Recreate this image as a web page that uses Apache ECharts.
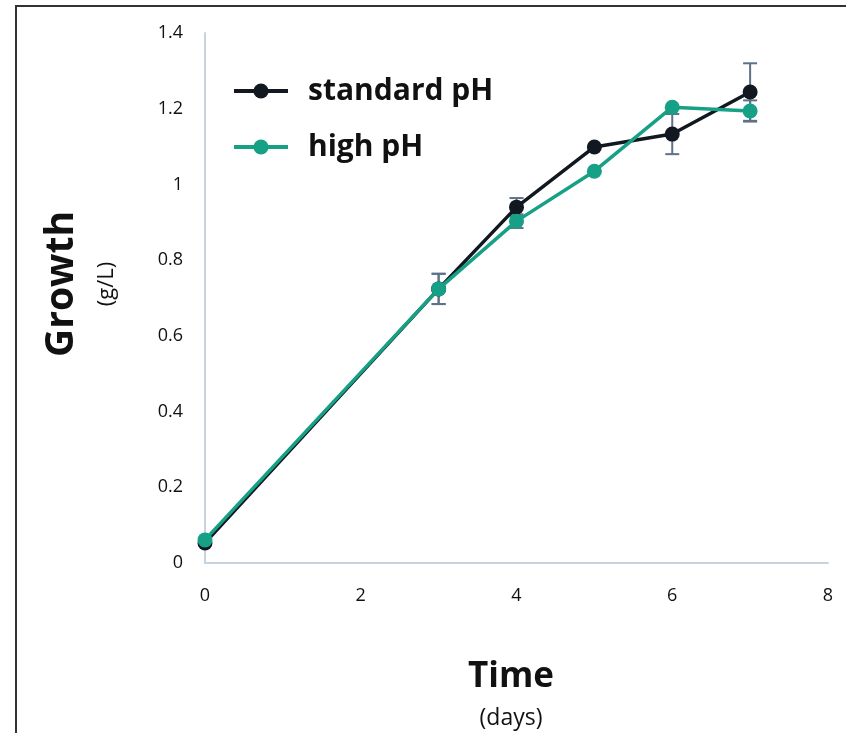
<!DOCTYPE html>
<html>
<head>
<meta charset="utf-8">
<script src="https://cdn.jsdelivr.net/npm/echarts@6/dist/echarts.min.js"></script>
<style>html,body{margin:0;padding:0;background:#fff}#c{width:846px;height:733px}</style>
</head>
<body>
<div id="c"></div>
<script>
const days = [0, 3, 4, 5, 6, 7];
const standardPH = [0.053, 0.724, 0.940, 1.099, 1.133, 1.244];
const highPH = [0.061, 0.724, 0.903, 1.035, 1.204, 1.194];
const standardErr = [0, 0.040, 0.024, 0, 0.053, 0.076];
const highErr = [0, 0.040, 0.018, 0, 0, 0.028];
const xTicks = [0, 2, 4, 6, 8];
const yTicks = [0, 0.2, 0.4, 0.6, 0.8, 1, 1.2, 1.4];

const chart = echarts.init(document.getElementById('c'), null, {renderer: 'canvas'});
const FONT = '"Open Sans", "Liberation Sans", sans-serif';
const BLACK = '#111820';
const GREEN = '#16a085';
const ERR = '#5d7189';

function errData(vals, errs) {
  const out = [];
  days.forEach((d, i) => { if (errs[i] > 0) out.push([d, vals[i] - errs[i], vals[i] + errs[i]]); });
  return out;
}
function errRender(params, api) {
  const x = api.value(0);
  const lo = api.coord([x, api.value(1)]);
  const hi = api.coord([x, api.value(2)]);
  const w = 7;
  const style = {stroke: ERR, lineWidth: 2};
  return {type: 'group', children: [
    {type: 'line', shape: {x1: lo[0], y1: lo[1], x2: hi[0], y2: hi[1]}, style},
    {type: 'line', shape: {x1: lo[0] - w, y1: lo[1], x2: lo[0] + w, y2: lo[1]}, style},
    {type: 'line', shape: {x1: hi[0] - w, y1: hi[1], x2: hi[0] + w, y2: hi[1]}, style}
  ]};
}

chart.setOption({
  animation: false,
  backgroundColor: '#fff',
  grid: {left: 205, right: 18, top: 33, bottom: 170},
  xAxis: {
    type: 'value', min: 0, max: 8, interval: 2,
    axisLine: {show: true, lineStyle: {color: '#c6d4e2', width: 2}},
    axisTick: {show: false},
    splitLine: {show: false},
    axisLabel: {color: '#111', fontSize: 18, fontFamily: FONT, margin: 24,
      formatter: v => xTicks.includes(v) ? String(v) : ''}
  },
  yAxis: {
    type: 'value', min: 0, max: 1.4, interval: 0.2,
    axisLine: {show: true, lineStyle: {color: '#c6d4e2', width: 2}},
    axisTick: {show: false},
    splitLine: {show: false},
    axisLabel: {color: '#111', fontSize: 18, fontFamily: FONT, margin: 22,
      formatter: v => { const t = yTicks.find(y => Math.abs(y - v) < 1e-9); return t === undefined ? '' : String(t); }}
  },
  legend: {
    orient: 'vertical', left: 227, top: 71, itemWidth: 54, itemHeight: 19, itemGap: 26,
    lineStyle: {width: 4},
    textStyle: {fontSize: 30, fontWeight: 'bold', fontFamily: FONT, color: '#111', padding: [0, 0, 0, 15]},
    data: ['standard pH', 'high pH']
  },
  series: [
    {type: 'custom', name: 'errStd', renderItem: errRender, data: errData(standardPH, standardErr), z: 1, encode: {x: 0, y: [1, 2]}},
    {type: 'custom', name: 'errHigh', renderItem: errRender, data: errData(highPH, highErr), z: 1, encode: {x: 0, y: [1, 2]}},
    {type: 'line', name: 'standard pH', data: days.map((d, i) => [d, standardPH[i]]),
      symbol: 'circle', symbolSize: 15, lineStyle: {color: BLACK, width: 3.5}, itemStyle: {color: BLACK}, z: 3},
    {type: 'line', name: 'high pH', data: days.map((d, i) => [d, highPH[i]]),
      symbol: 'circle', symbolSize: 15, lineStyle: {color: GREEN, width: 3.5}, itemStyle: {color: GREEN}, z: 4}
  ],
  graphic: [
    {type: 'polyline', shape: {points: [[16, 733], [16, 6], [846, 6]]}, style: {stroke: '#333', lineWidth: 2, fill: null}},
    {type: 'text', x: 62, y: 284, rotation: Math.PI / 2, style: {text: 'Growth', fontSize: 39, fontWeight: 'bold', fontFamily: FONT, fill: '#111', align: 'center', verticalAlign: 'middle'}},
    {type: 'text', x: 107, y: 284, rotation: Math.PI / 2, style: {text: '(g/L)', fontSize: 22, fontFamily: FONT, fill: '#111', align: 'center', verticalAlign: 'middle'}},
    {type: 'text', x: 511, y: 677, style: {text: 'Time', fontSize: 35, fontWeight: 'bold', fontFamily: FONT, fill: '#111', align: 'center', verticalAlign: 'middle'}},
    {type: 'text', x: 511, y: 718, style: {text: '(days)', fontSize: 23, fontFamily: FONT, fill: '#111', align: 'center', verticalAlign: 'middle'}}
  ]
});
</script>
</body>
</html>
